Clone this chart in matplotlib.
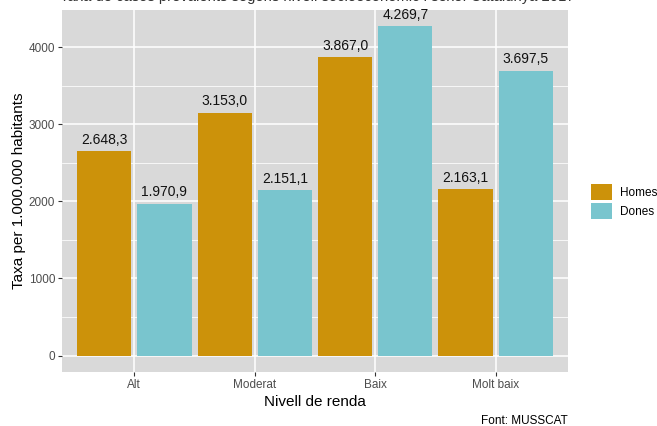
import matplotlib
matplotlib.use("Agg")
import matplotlib.pyplot as plt
from matplotlib.patches import Patch
import numpy as np

plt.rcParams['font.family'] = ['Liberation Sans', 'DejaVu Sans']

categories = ["Alt", "Moderat", "Baix", "Molt baix"]
homes = [2648.3, 3153.0, 3867.0, 2163.1]
dones = [1970.9, 2151.1, 4269.7, 3697.5]
series_names = ["Homes", "Dones"]
colors = ["#CC920A", "#79C5CE"]
title = "Taxa de casos prevalents segons nivell socioeconòmic i sexe. Catalunya 2017"

def fmt(v):
    s = f"{v:,.1f}"
    return s.replace(",", "X").replace(".", ",").replace("X", ".")

W, H = 657, 426
fig = plt.figure(figsize=(W/100, H/100), dpi=100)
left, right, top, bottom = 62, 568, 10, 372
ax = fig.add_axes([left/W, 1 - bottom/H, (right-left)/W, (bottom-top)/H])
ax.set_facecolor("#D9D9D9")

x = np.arange(1, len(categories)+1)
bw = 0.45
for vals, off, c in [(homes, -0.25, colors[0]), (dones, 0.25, colors[1])]:
    ax.bar(x + off, vals, width=bw, color=c, zorder=3)
    for xi, v in zip(x + off, vals):
        ax.annotate(fmt(v), (xi, v), xytext=(0, 3), textcoords="offset points",
                    ha="center", va="bottom", fontsize=10, color="#111111", zorder=4)

ax.set_xlim(0.4, 4.6)
ymax = max(max(homes), max(dones))
ax.set_ylim(-0.05*ymax, 1.05*ymax)
ax.set_xticks(x)
ax.set_xticklabels(categories)
ax.set_yticks([0, 1000, 2000, 3000, 4000])
ax.set_yticks([500, 1500, 2500, 3500], minor=True)
ax.grid(True, which="major", color="white", linewidth=1.1, zorder=0)
ax.grid(True, which="minor", axis="y", color="white", linewidth=0.55, zorder=0)
ax.set_axisbelow(True)
for s in ax.spines.values():
    s.set_visible(False)
ax.tick_params(axis="both", which="major", length=3, color="#333333", labelsize=8.5,
               labelcolor="#4D4D4D", pad=2, width=0.8)
ax.tick_params(axis="both", which="minor", length=0)

ax.set_xlabel("Nivell de renda", fontsize=11, color="black", labelpad=3)
ax.set_ylabel("Taxa per 1.000.000 habitants", fontsize=11, color="black", labelpad=1.5)

fig.text(((left+right)/2 + 2)/W, 1 - 1.5/H, title, ha="center", va="baseline", fontsize=10.6, color="#333333")
fig.text(right/W, 1 - 420.5/H, "Font: MUSSCAT", ha="right", va="center", fontsize=8.5, color="black")

handles = [Patch(facecolor=colors[i], edgecolor="none", label=series_names[i]) for i in range(2)]
fig.legend(handles=handles, loc="center left", bbox_to_anchor=(586.3/W, 1 - 201.5/H),
           frameon=False, fontsize=8.5, handlelength=1.78, handleheight=1.78,
           handletextpad=0.68, labelspacing=0.17, borderpad=0.4, borderaxespad=0)

fig.savefig("out.png", dpi=100)
